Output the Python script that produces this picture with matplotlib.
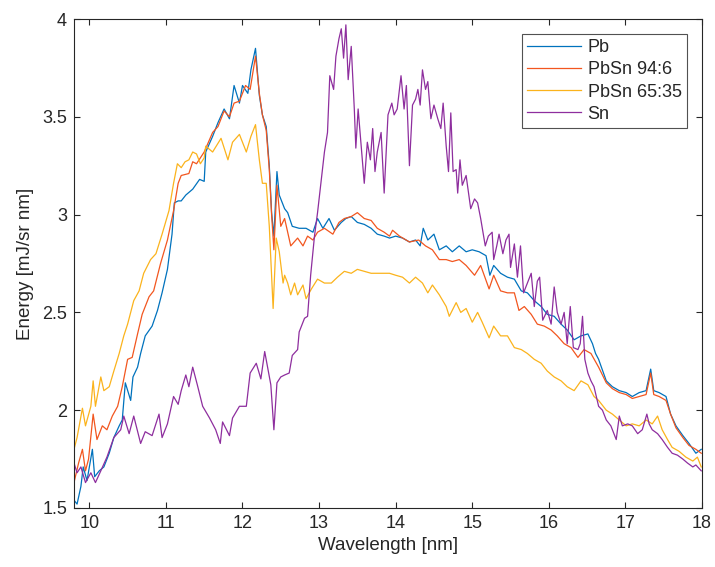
import matplotlib
matplotlib.use("Agg")
import matplotlib.pyplot as plt
from matplotlib.ticker import FuncFormatter

plt.rcParams['font.family'] = ['Liberation Sans', 'DejaVu Sans']

# ---- data ----
wl_pb = [9.80, 9.84, 9.89, 9.92, 9.97, 10.04, 10.07, 10.13, 10.19, 10.26, 10.32, 10.39, 10.43, 10.47,
         10.54, 10.57, 10.63, 10.67, 10.73, 10.82, 10.89, 10.95, 11.02, 11.08, 11.11, 11.16, 11.20,
         11.26, 11.35, 11.44, 11.50, 11.52, 11.61, 11.68, 11.76, 11.83, 11.89, 11.96, 12.00, 12.07,
         12.11, 12.17, 12.22, 12.26, 12.31, 12.35, 12.38, 12.41, 12.45, 12.48, 12.55, 12.59, 12.65,
         12.74, 12.83, 12.92, 12.98, 13.05, 13.13, 13.20, 13.29, 13.35, 13.42, 13.50, 13.59, 13.68,
         13.76, 13.85, 13.92, 14.00, 14.09, 14.18, 14.26, 14.32, 14.36, 14.42, 14.50, 14.57, 14.66,
         14.74, 14.83, 14.92, 15.00, 15.09, 15.18, 15.23, 15.28, 15.37, 15.46, 15.55, 15.64, 15.72,
         15.81, 15.90, 15.98, 16.07, 16.16, 16.24, 16.33, 16.42, 16.51, 16.57, 16.61, 16.65, 16.75,
         16.83, 16.92, 17.01, 17.09, 17.18, 17.27, 17.33, 17.37, 17.44, 17.53, 17.59, 17.66, 17.75,
         17.83, 17.92, 17.99]
e_pb = [1.54, 1.52, 1.61, 1.71, 1.64, 1.80, 1.66, 1.69, 1.71, 1.78, 1.86, 1.92, 1.95, 2.14,
        2.05, 2.17, 2.22, 2.29, 2.38, 2.43, 2.51, 2.60, 2.72, 2.90, 3.06, 3.07, 3.07,
        3.10, 3.13, 3.18, 3.17, 3.32, 3.40, 3.47, 3.54, 3.49, 3.66, 3.57, 3.66, 3.62,
        3.74, 3.85, 3.61, 3.51, 3.45, 3.25, 3.01, 2.89, 3.22, 3.10, 3.03, 3.01, 2.94,
        2.93, 2.93, 2.91, 2.98, 2.93, 2.98, 2.92, 2.96, 2.98, 2.99, 2.96, 2.95, 2.93,
        2.90, 2.89, 2.88, 2.89, 2.88, 2.86, 2.87, 2.84, 2.93, 2.87, 2.90, 2.82, 2.84,
        2.81, 2.84, 2.81, 2.82, 2.81, 2.79, 2.69, 2.74, 2.70, 2.68, 2.67, 2.61, 2.60,
        2.56, 2.53, 2.49, 2.48, 2.44, 2.41, 2.36, 2.38, 2.39, 2.34, 2.29, 2.26, 2.15,
        2.12, 2.10, 2.09, 2.07, 2.09, 2.10, 2.21, 2.10, 2.09, 2.07, 1.98, 1.92, 1.87,
        1.83, 1.78, 1.80]

wl_pbsn94 = [9.80, 9.86, 9.91, 9.95, 9.99, 10.05, 10.10, 10.17, 10.23, 10.30, 10.37, 10.43, 10.50,
             10.56, 10.63, 10.69, 10.78, 10.84, 10.93, 11.02, 11.10, 11.16, 11.20, 11.30, 11.35,
             11.40, 11.50, 11.61, 11.68, 11.76, 11.83, 11.89, 11.96, 12.04, 12.10, 12.17, 12.22,
             12.26, 12.31, 12.35, 12.38, 12.41, 12.45, 12.50, 12.55, 12.59, 12.63, 12.72, 12.79,
             12.85, 12.92, 12.98, 13.07, 13.18, 13.26, 13.33, 13.42, 13.50, 13.59, 13.68, 13.76,
             13.85, 13.92, 13.96, 14.05, 14.18, 14.30, 14.39, 14.48, 14.57, 14.66, 14.74, 14.83,
             14.92, 15.03, 15.11, 15.22, 15.28, 15.37, 15.46, 15.55, 15.61, 15.68, 15.77, 15.85,
             15.94, 16.03, 16.11, 16.20, 16.29, 16.38, 16.46, 16.55, 16.65, 16.75, 16.83, 16.92,
             17.01, 17.09, 17.18, 17.27, 17.33, 17.37, 17.44, 17.53, 17.59, 17.66, 17.75, 17.83,
             17.92, 17.99]
e_pbsn94 = [1.63, 1.73, 1.80, 1.69, 1.75, 1.98, 1.85, 1.92, 1.90, 1.97, 2.02, 2.12, 2.26,
            2.27, 2.39, 2.49, 2.58, 2.61, 2.75, 2.87, 3.02, 3.16, 3.20, 3.21, 3.27,
            3.26, 3.32, 3.42, 3.45, 3.53, 3.50, 3.57, 3.58, 3.66, 3.64, 3.81, 3.62,
            3.51, 3.43, 3.23, 3.00, 2.82, 3.15, 2.94, 2.98, 2.91, 2.84, 2.88, 2.84,
            2.89, 2.87, 2.91, 2.93, 2.90, 2.96, 2.98, 2.99, 3.01, 2.98, 2.97, 2.93,
            2.91, 2.89, 2.92, 2.89, 2.86, 2.87, 2.84, 2.82, 2.77, 2.77, 2.76, 2.77,
            2.74, 2.69, 2.74, 2.62, 2.69, 2.61, 2.60, 2.60, 2.51, 2.53, 2.49, 2.44,
            2.43, 2.41, 2.38, 2.34, 2.32, 2.27, 2.31, 2.29, 2.22, 2.14, 2.11, 2.09,
            2.08, 2.06, 2.07, 2.08, 2.19, 2.08, 2.07, 2.05, 1.98, 1.91, 1.86, 1.82,
            1.80, 1.78]

wl_pbsn65 = [9.80, 9.84, 9.91, 9.95, 10.02, 10.05, 10.08, 10.15, 10.19, 10.26, 10.32, 10.39, 10.45,
             10.50, 10.58, 10.65, 10.71, 10.80, 10.87, 10.95, 11.04, 11.10, 11.15, 11.20, 11.25,
             11.30, 11.35, 11.40, 11.45, 11.50, 11.52, 11.61, 11.72, 11.81, 11.87, 11.96, 12.05,
             12.11, 12.17, 12.22, 12.26, 12.31, 12.35, 12.40, 12.44, 12.48, 12.53, 12.55, 12.59,
             12.63, 12.68, 12.72, 12.79, 12.83, 12.90, 12.98, 13.07, 13.16, 13.24, 13.33, 13.42,
             13.50, 13.59, 13.68, 13.76, 13.85, 13.92, 14.00, 14.09, 14.18, 14.26, 14.35, 14.42,
             14.48, 14.57, 14.66, 14.70, 14.79, 14.85, 14.92, 15.00, 15.07, 15.13, 15.22, 15.28,
             15.37, 15.46, 15.55, 15.64, 15.72, 15.81, 15.90, 15.98, 16.07, 16.16, 16.24, 16.33,
             16.42, 16.51, 16.59, 16.65, 16.75, 16.83, 16.92, 17.01, 17.09, 17.18, 17.27, 17.35,
             17.42, 17.48, 17.55, 17.61, 17.70, 17.79, 17.88, 17.94, 17.99]
e_pbsn65 = [1.80, 1.86, 2.01, 1.92, 2.02, 2.15, 2.02, 2.17, 2.10, 2.12, 2.20, 2.29, 2.38,
            2.44, 2.56, 2.61, 2.70, 2.77, 2.80, 2.90, 3.02, 3.16, 3.26, 3.24, 3.27,
            3.28, 3.32, 3.31, 3.26, 3.29, 3.35, 3.32, 3.39, 3.28, 3.37, 3.41, 3.32,
            3.40, 3.46, 3.28, 3.16, 3.16, 2.94, 2.52, 2.88, 2.81, 2.65, 2.69, 2.65,
            2.59, 2.65, 2.59, 2.64, 2.57, 2.62, 2.67, 2.65, 2.65, 2.68, 2.71, 2.70,
            2.72, 2.71, 2.70, 2.70, 2.70, 2.70, 2.69, 2.68, 2.65, 2.68, 2.65, 2.60,
            2.64, 2.59, 2.53, 2.48, 2.55, 2.50, 2.52, 2.45, 2.50, 2.45, 2.37, 2.43,
            2.38, 2.38, 2.32, 2.31, 2.29, 2.26, 2.24, 2.20, 2.17, 2.15, 2.12, 2.10,
            2.15, 2.13, 2.07, 2.05, 2.00, 1.98, 1.95, 1.92, 1.93, 1.92, 1.95, 1.93,
            1.97, 1.90, 1.85, 1.81, 1.79, 1.76, 1.74, 1.76, 1.71]

wl_sn = [9.80, 9.84, 9.89, 9.95, 10.02, 10.08, 10.15, 10.23, 10.32, 10.41, 10.45, 10.52, 10.58,
         10.67, 10.73, 10.82, 10.91, 10.95, 11.02, 11.10, 11.16, 11.20, 11.26, 11.30, 11.35,
         11.41, 11.48, 11.57, 11.65, 11.71, 11.74, 11.83, 11.87, 11.96, 12.05, 12.10, 12.18,
         12.24, 12.29, 12.37, 12.41, 12.45, 12.50, 12.55, 12.61, 12.65, 12.72, 12.74, 12.81,
         12.85, 12.89, 12.94, 12.98, 13.02, 13.07, 13.11, 13.14, 13.19, 13.22, 13.26, 13.29,
         13.32, 13.35, 13.38, 13.42, 13.46, 13.48, 13.51, 13.55, 13.59, 13.63, 13.67, 13.70,
         13.73, 13.76, 13.81, 13.85, 13.90, 13.95, 13.98, 14.02, 14.07, 14.11, 14.14, 14.18,
         14.22, 14.26, 14.29, 14.32, 14.35, 14.39, 14.42, 14.46, 14.50, 14.55, 14.59, 14.62,
         14.66, 14.69, 14.72, 14.75, 14.79, 14.81, 14.84, 14.87, 14.92, 14.98, 15.03, 15.07,
         15.11, 15.17, 15.21, 15.26, 15.28, 15.32, 15.35, 15.40, 15.44, 15.48, 15.50, 15.55,
         15.59, 15.63, 15.67, 15.72, 15.77, 15.81, 15.85, 15.88, 15.92, 15.98, 16.03, 16.07,
         16.11, 16.16, 16.20, 16.24, 16.28, 16.32, 16.38, 16.41, 16.44, 16.47, 16.51, 16.55,
         16.59, 16.65, 16.70, 16.75, 16.81, 16.88, 16.92, 16.96, 17.03, 17.09, 17.16, 17.22,
         17.28, 17.31, 17.35, 17.42, 17.48, 17.55, 17.61, 17.68, 17.75, 17.81, 17.88, 17.92,
         17.99]
e_sn = [1.73, 1.68, 1.71, 1.63, 1.68, 1.63, 1.69, 1.76, 1.86, 1.90, 1.97, 1.88, 1.97,
        1.83, 1.89, 1.87, 1.98, 1.86, 1.93, 2.07, 2.03, 2.10, 2.18, 2.12, 2.22,
        2.13, 2.02, 1.96, 1.90, 1.83, 1.94, 1.87, 1.96, 2.02, 2.02, 2.19, 2.24,
        2.16, 2.30, 2.13, 1.90, 2.14, 2.17, 2.18, 2.19, 2.28, 2.31, 2.40, 2.47,
        2.48, 2.69, 2.89, 3.01, 3.15, 3.32, 3.42, 3.71, 3.64, 3.81, 3.90, 3.95,
        3.80, 3.97, 3.69, 3.86, 3.54, 3.34, 3.54, 3.35, 3.16, 3.37, 3.28, 3.44,
        3.22, 3.32, 3.42, 3.11, 3.51, 3.57, 3.51, 3.54, 3.71, 3.54, 3.66, 3.25,
        3.56, 3.59, 3.64, 3.56, 3.74, 3.64, 3.68, 3.49, 3.56, 3.49, 3.44, 3.57,
        3.35, 3.22, 3.52, 3.22, 3.23, 3.11, 3.28, 3.15, 3.20, 3.03, 3.08, 3.06,
        2.98, 2.84, 2.89, 2.91, 2.77, 2.84, 2.90, 2.80, 2.87, 2.90, 2.73, 2.85,
        2.68, 2.84, 2.60, 2.65, 2.70, 2.53, 2.66, 2.68, 2.46, 2.51, 2.44, 2.63,
        2.50, 2.44, 2.50, 2.34, 2.53, 2.32, 2.31, 2.34, 2.48, 2.26, 2.19, 2.15,
        2.12, 2.02, 2.00, 1.95, 1.92, 1.85, 1.97, 1.92, 1.93, 1.92, 1.88, 1.90,
        1.98, 1.93, 1.90, 1.88, 1.85, 1.81, 1.78, 1.77, 1.75, 1.73, 1.71, 1.72,
        1.69]

labels = ['Pb', 'PbSn 94:6', 'PbSn 65:35', 'Sn']
x_ticks = [10, 11, 12, 13, 14, 15, 16, 17, 18]
y_ticks = [1.5, 2, 2.5, 3, 3.5, 4]

colors = ['#0072BD', '#F2561F', '#FBB31C', '#8E2E9E']

fig = plt.figure(figsize=(7.15, 5.67), dpi=100)
ax = fig.add_axes([74/715, 59/567, 628/715, 489/567])

series = [(wl_pb, e_pb), (wl_pbsn94, e_pbsn94), (wl_pbsn65, e_pbsn65), (wl_sn, e_sn)]
for (xv, yv), lab, c in zip(series, labels, colors):
    ax.plot(xv, yv, color=c, lw=0.9, label=lab)

ax.set_xlim(9.8, 18)
ax.set_ylim(1.5, 4)
ax.set_xticks(x_ticks)
ax.set_yticks(y_ticks)
ax.yaxis.set_major_formatter(FuncFormatter(lambda v, p: f"{v:g}"))

axc = '#262626'
for s in ax.spines.values():
    s.set_color(axc)
    s.set_linewidth(0.8)
ax.tick_params(direction='in', top=True, right=True, length=4, width=0.8,
               color=axc, labelcolor=axc, labelsize=13, pad=5)
ax.set_xlabel('Wavelength [nm]', fontsize=13.5, color=axc, labelpad=4)
ax.set_ylabel('Energy [mJ/sr nm]', fontsize=13.5, color=axc, labelpad=6)

leg = ax.legend(loc='upper right', bbox_to_anchor=((687-74)/628, (508-34)/489),
                borderaxespad=0, fontsize=13, frameon=True, fancybox=False,
                handlelength=3.0, handletextpad=0.35, labelspacing=0.28,
                borderpad=0.3, edgecolor=axc)
leg.get_frame().set_linewidth(0.8)
for t in leg.get_texts():
    t.set_color(axc)

fig.savefig('out.png', dpi=100)
